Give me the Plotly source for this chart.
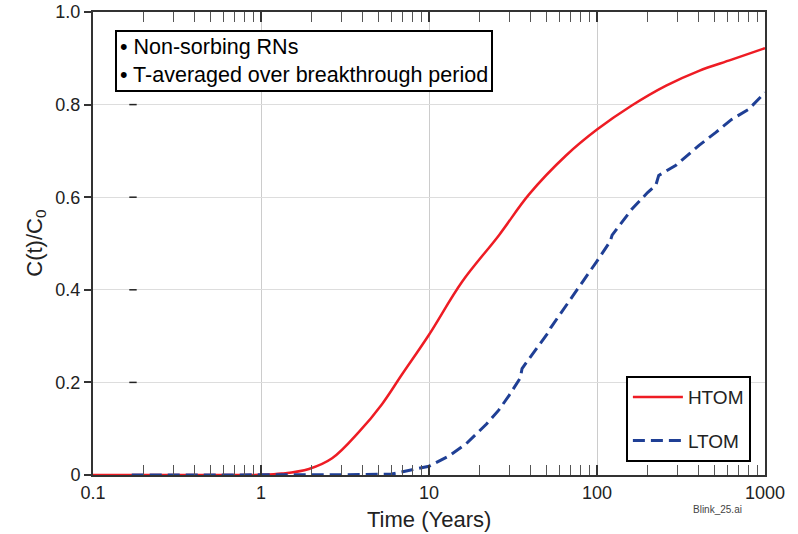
import plotly.graph_objects as go

# HTOM (red, solid)
t_htom = [0.1, 0.5, 1.0, 1.33, 1.93, 2.65, 3.83, 5.25, 6.9, 10, 15.7, 26.1, 39.4, 65.4, 100, 161, 258, 405, 633, 1000]
c_htom = [0.0, 0.0, 0.0005, 0.003, 0.013, 0.036, 0.093, 0.153, 0.217, 0.303, 0.417, 0.518, 0.606, 0.69, 0.746, 0.798, 0.841, 0.873, 0.897, 0.922]

# LTOM (blue, dashed)
t_ltom = [0.17, 1.0, 3.0, 6.0, 10, 13, 16.6, 22, 26, 30, 33.4, 35, 35.8, 45, 51.8, 53, 75, 100, 120, 123, 161, 200, 224, 233, 295, 405, 510, 633, 800, 1000]
c_ltom = [0.0, 0.0, 0.0005, 0.002, 0.019, 0.04, 0.067, 0.11, 0.14, 0.172, 0.20, 0.21, 0.23, 0.28, 0.31, 0.318, 0.396, 0.462, 0.505, 0.518, 0.574, 0.61, 0.626, 0.647, 0.669, 0.712, 0.740, 0.768, 0.79, 0.826]

x_tickvals = [0.1, 1, 10, 100, 1000]
x_ticktext = ["0.1", "1", "10", "100", "1000"]
y_tickvals = [0, 0.2, 0.4, 0.6, 0.8, 1.0]
y_ticktext = ["0", "0.2", "0.4", "0.6", "0.8", "1.0"]
inner_dash_vals = [0.2, 0.4, 0.6, 0.8]

FONT = "Liberation Sans, Arial, Helvetica, sans-serif"
INK = "#222222"

fig = go.Figure()
fig.add_trace(go.Scatter(x=t_htom, y=c_htom, mode="lines", name="HTOM",
                         legendgroup="a",
                         line=dict(color="#ee1c24", width=2.5, shape="spline", smoothing=1.0)))
fig.add_trace(go.Scatter(x=t_ltom, y=c_ltom, mode="lines", name="LTOM",
                         legendgroup="b",
                         line=dict(color="#1f3f95", width=3, dash="12px,6px")))

for v in inner_dash_vals:
    fig.add_shape(type="line", xref="paper", yref="y", x0=0.054, x1=0.065, y0=v, y1=v,
                  line=dict(color=INK, width=1.5))

fig.add_annotation(xref="paper", yref="paper", x=0.033, y=0.961, xanchor="left", yanchor="top",
                   text="• Non-sorbing RNs<br>• T-averaged over breakthrough period",
                   showarrow=False, align="left",
                   font=dict(family=FONT, size=21.5, color="black"),
                   bordercolor="black", borderwidth=2, borderpad=3, bgcolor="white")

fig.add_annotation(xref="paper", yref="paper", x=0.93, y=-0.075, xanchor="center", yanchor="middle",
                   text="Blink_25.ai", showarrow=False,
                   font=dict(family=FONT, size=10, color="#444444"))

# axis titles
fig.add_annotation(xref="paper", yref="paper", x=0.5, y=-0.097, xanchor="center", yanchor="middle",
                   text="Time (Years)", showarrow=False,
                   font=dict(family=FONT, size=22, color=INK))
fig.add_annotation(xref="paper", yref="paper", x=-0.086, y=0.5, xanchor="center", yanchor="middle",
                   text="C(t)/C<sub>0</sub>", showarrow=False, textangle=-90,
                   font=dict(family=FONT, size=22, color=INK))

fig.update_layout(
    width=798, height=534,
    margin=dict(l=93, r=33, t=12, b=59, autoexpand=False),
    plot_bgcolor="white", paper_bgcolor="white",
    font=dict(family=FONT, color=INK),
    legend=dict(x=0.979, y=0.028, xanchor="right", yanchor="bottom",
                bordercolor="black", borderwidth=2, bgcolor="white",
                font=dict(family=FONT, size=19, color=INK),
                traceorder="grouped", tracegroupgap=16, itemwidth=50),
    showlegend=True,
)

fig.update_xaxes(type="log", range=[-1, 3], automargin=False,
                 tickvals=x_tickvals, ticktext=x_ticktext,
                 ticks="inside", ticklen=10, tickwidth=2, tickcolor="#333",
                 showline=True, linecolor="#333", linewidth=2, mirror="allticks",
                 showgrid=True, gridcolor="#cccccc", gridwidth=1,
                 tickfont=dict(family=FONT, size=18, color=INK),
                 minor=dict(ticks="inside", ticklen=10, tickwidth=1, tickcolor="#555",
                            dtick="D1", showgrid=False),
                 zeroline=False)

fig.update_yaxes(range=[0, 1.0], automargin=False,
                 tickvals=y_tickvals, ticktext=y_ticktext,
                 ticks="outside", ticklen=7, tickwidth=1.5, tickcolor="#333",
                 showline=True, linecolor="#333", linewidth=2, mirror=True,
                 showgrid=True, gridcolor="#dddddd", gridwidth=1,
                 tickfont=dict(family=FONT, size=18, color=INK),
                 zeroline=False)

fig.write_html("out.html")
